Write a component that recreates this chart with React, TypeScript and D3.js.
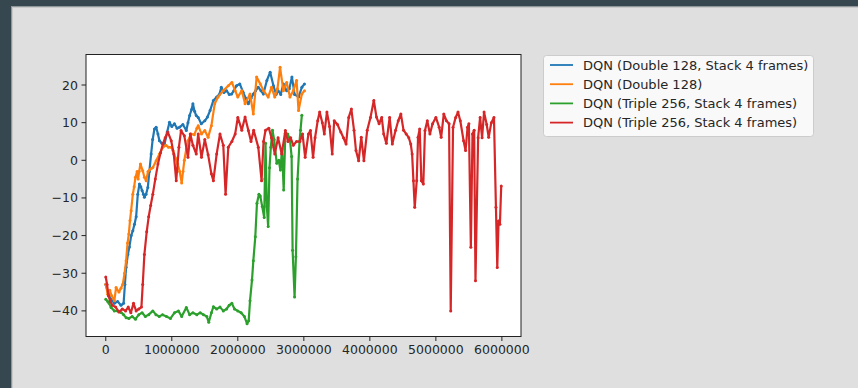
import React from "react";
import * as d3 from "d3";

// ---- data (steps in thousands, reward) ----
const blueData: [number, number][] = [
  [0,-33],[40,-35.5],[80,-37],[130,-38],[180,-37.5],[230,-38.5],[270,-38],[290,-33],[308,-28.4],[335,-25],[358,-23],[385,-20],[410,-18.7],[435,-17],[460,-15],[485,-9],[510,-6.3],[530,-7],[550,-8],[570,-9],[585,-9.8],[610,-9],[637,-7.2],[660,-3],[687,1.7],[710,5.5],[737,8.3],[763,8.8],[790,7],[813,5.2],[850,4.5],[890,4.3],[930,7.5],[965,10.1],[1000,9],[1040,9.7],[1080,8.5],[1117,8.8],[1168,9.5],[1220,7.9],[1245,10],[1270,11.9],[1300,13.5],[1320,15],[1345,13],[1370,11.9],[1400,11.4],[1446,9.7],[1500,10.5],[1540,11.5],[1580,13.2],[1630,15.9],[1680,16.8],[1720,17.5],[1750,19.4],[1790,18],[1830,18.5],[1870,17.5],[1906,17.6],[1940,18.5],[1980,19.8],[2030,20.3],[2080,18.1],[2120,16.5],[2160,15],[2200,16.5],[2235,17.6],[2270,18.5],[2310,19.4],[2350,18.5],[2387,17.6],[2440,21.2],[2490,23.4],[2540,19.8],[2580,17.5],[2610,18.5],[2650,17.5],[2690,20.3],[2740,18.5],[2780,19],[2820,22.1],[2860,17.5],[2920,16.8],[2970,19.4],[3010,20.3]
];
const orangeData: [number, number][] = [
  [0,-32.9],[30,-35.6],[60,-34.5],[90,-36],[130,-37.3],[156,-33.8],[200,-35],[230,-34],[258,-32.9],[285,-30],[308,-26.7],[330,-22],[349,-19.6],[367,-16],[384,-13.4],[410,-9],[430,-7],[450,-4.5],[475,-3],[490,-5],[505,-3],[525,-1],[560,-2.8],[585,-4.5],[612,-5.4],[640,-3],[665,-2.5],[690,-2.2],[713,-1.9],[763,-0.1],[813,1.7],[865,3.5],[910,4],[950,3.5],[990,3.5],[1017,2.6],[1060,0.5],[1090,-1],[1120,-3],[1150,-6],[1170,-3],[1190,0],[1220,3],[1245,5.2],[1294,7],[1340,6.8],[1380,8.5],[1400,9.2],[1450,7],[1500,7.9],[1550,6.1],[1600,9.2],[1650,15],[1700,16.8],[1780,18.5],[1856,19.8],[1910,20.7],[1960,18.5],[2000,16.8],[2060,18.5],[2110,15],[2185,17.6],[2235,12.3],[2285,22.1],[2340,20.3],[2390,18.5],[2460,16.8],[2510,19.4],[2560,16.8],[2600,19],[2640,24.7],[2690,18.5],[2740,20.7],[2790,16.8],[2840,18.5],[2890,21.2],[2920,13.2],[2970,17.6],[3010,18.5]
];
const greenData: [number, number][] = [
  [0,-36.9],[30,-37.5],[50,-38],[80,-39.1],[130,-40],[180,-40],[232,-40.4],[270,-41],[308,-41.8],[350,-42],[400,-41.5],[450,-42.2],[500,-41],[550,-40.5],[600,-41.5],[650,-41],[713,-40],[760,-41],[810,-41.5],[860,-41],[920,-41.5],[980,-42],[1040,-40.5],[1100,-40],[1150,-41.5],[1220,-39.1],[1270,-41],[1320,-40.5],[1380,-41],[1430,-40.5],[1480,-41],[1530,-41.5],[1560,-43],[1600,-40.5],[1630,-38.9],[1680,-39.5],[1730,-39],[1780,-40],[1830,-39.5],[1870,-38.5],[1910,-38],[1950,-39.5],[2000,-40],[2050,-40.5],[2100,-41.5],[2140,-43.4],[2165,-42.6],[2185,-37.3],[2215,-31.8],[2235,-26.7],[2265,-20.3],[2290,-11.4],[2320,-9],[2340,-9.5],[2370,-12.3],[2400,-15.2],[2410,-5],[2420,4.5],[2440,-12.3],[2460,-17.6],[2480,-2],[2500,3.5],[2525,8],[2550,5.5],[2590,-0.8],[2620,0],[2645,-2.6],[2670,3],[2695,-7.9],[2720,7.2],[2756,7],[2790,5.5],[2815,1],[2830,-23.9],[2860,-36.3],[2880,-25.6],[2905,-5],[2935,5],[2950,8],[2970,12]
];
const redData: [number, number][] = [
  [0,-31],[20,-33],[40,-36],[70,-37.5],[100,-38.5],[150,-39],[200,-40.3],[250,-39.5],[300,-40],[340,-39],[380,-40.5],[420,-38],[460,-40],[500,-39.5],[540,-39],[560,-33],[585,-25],[620,-19],[650,-15],[680,-12],[713,-9],[750,-5],[790,-1],[830,2],[865,4.3],[900,6],[940,7.5],[991,5.2],[1030,1.7],[1067,-5.4],[1108,3.5],[1140,7.9],[1190,6.5],[1245,0.8],[1280,7],[1320,4],[1370,1.7],[1400,7],[1450,0.8],[1500,5.5],[1550,1.5],[1600,-3.6],[1630,-5.4],[1680,1.7],[1730,7],[1780,4],[1815,-9],[1856,3.5],[1910,5],[1960,7],[2000,11.4],[2060,8],[2110,11.5],[2160,7.9],[2200,5],[2240,8],[2310,3.5],[2360,-5.4],[2390,5],[2420,8],[2470,8.5],[2510,6],[2560,1.7],[2610,6],[2665,1.7],[2720,7.9],[2760,5],[2800,6],[2840,4],[2890,5],[2940,5],[2980,7],[3020,0.8],[3070,7],[3100,7.9],[3140,0.8],[3170,6],[3210,10.5],[3240,12.8],[3280,10],[3310,7],[3350,12.8],[3390,9],[3430,1.7],[3460,10.5],[3510,9.5],[3560,7.5],[3600,6],[3640,4.3],[3680,11.4],[3720,13.6],[3760,8],[3790,2.6],[3830,-0.1],[3870,6.1],[3910,-0.1],[3960,8],[4010,11.4],[4060,15.9],[4100,11.5],[4140,9.7],[4180,11.4],[4210,7],[4250,4.5],[4300,11.4],[4340,4.3],[4390,8],[4430,10.5],[4470,12.3],[4510,8],[4550,7],[4590,6],[4620,4.3],[4640,1.7],[4660,-5.4],[4680,-12.5],[4710,-5.4],[4730,6.1],[4755,8.3],[4780,-5.4],[4810,-6.3],[4835,7.9],[4870,10.5],[4910,7],[4950,9.7],[5000,11.4],[5050,8.8],[5080,6.1],[5120,12.3],[5160,10.5],[5200,9.7],[5225,-40],[5260,8.8],[5300,11.4],[5335,12.8],[5370,10.5],[5420,5.2],[5450,2.6],[5480,8.8],[5500,9.7],[5530,-23.1],[5555,7],[5580,8],[5600,-32],[5640,6],[5670,11.4],[5700,6],[5730,12.8],[5770,9.5],[5800,6.1],[5840,10],[5880,11.4],[5910,-12.5],[5930,-28.5],[5950,-16.1],[5970,-17],[5990,-6.8]
];

const seriesNames = [
  "DQN (Double 128, Stack 4 frames)",
  "DQN (Double 128)",
  "DQN (Triple 256, Stack 4 frames)",
  "DQN (Triple 256, Stack 4 frames)",
];
const seriesColors = ["#1f77b4", "#ff7f0e", "#2ca02c", "#d62728"];
const xTicks = [0, 1000000, 2000000, 3000000, 4000000, 5000000, 6000000];
const yTicks = [-40, -30, -20, -10, 0, 10, 20];

export default function App() {
  const W = 858, H = 388;
  const L = 86, R = 521, T = 54.5, B = 336.5;
  const all = [blueData, orangeData, greenData, redData];
  const pts = all.flat();
  const xExt = d3.extent(pts, (d) => d[0] * 1000) as [number, number];
  const yExt = d3.extent(pts, (d) => d[1]) as [number, number];
  const xm = (xExt[1] - xExt[0]) * 0.05;
  const ym = (yExt[1] - yExt[0]) * 0.05;
  const x = d3.scaleLinear().domain([xExt[0] - xm, xExt[1] + xm]).range([L, R]);
  const y = d3.scaleLinear().domain([yExt[0] - ym, yExt[1] + ym]).range([B, T]);
  const line = d3
    .line<[number, number]>()
    .x((d) => x(d[0] * 1000))
    .y((d) => y(d[1]));
  const font = "'DejaVu Sans', sans-serif";
  const fs = 12.5;
  const txt = "#262626";
  const legX = 543.5, legY = 55.5, rowH = 19.2;

  return (
    <svg
      width={W}
      height={H}
      style={{ position: "absolute", left: 0, top: 0 }}
      xmlns="http://www.w3.org/2000/svg"
    >
      <rect x={0} y={0} width={W} height={H} fill="#37474f" />
      <rect x={11} y={6} width={W - 11} height={H - 6} fill="#8f9699" />
      <rect x={12} y={7} width={W - 12} height={H - 7} fill="#c9c9c9" />
      <rect x={13} y={8} width={W - 13} height={H - 8} fill="#dfdfdf" />

      <defs>
        <clipPath id="plotclip">
          <rect x={L} y={T} width={R - L} height={B - T} />
        </clipPath>
      </defs>
      <rect x={L} y={T} width={R - L} height={B - T} fill="#ffffff" />
      <g clipPath="url(#plotclip)">
        {all.map((data, i) => (
          <g key={i}>
            <path
              d={line(data) || ""}
              fill="none"
              stroke={seriesColors[i]}
              strokeWidth={2.2}
              strokeLinejoin="round"
            />
            {data.map((d, j) => (
              <circle
                key={j}
                cx={x(d[0] * 1000)}
                cy={y(d[1])}
                r={1.5}
                fill={seriesColors[i]}
              />
            ))}
          </g>
        ))}
      </g>
      <rect
        x={L}
        y={T}
        width={R - L}
        height={B - T}
        fill="none"
        stroke="#222"
        strokeWidth={1}
      />

      {yTicks.map((t) => (
        <g key={t}>
          <line x1={L - 4.5} x2={L} y1={y(t)} y2={y(t)} stroke="#222" />
          <text
            x={L - 8}
            y={y(t)}
            textAnchor="end"
            dominantBaseline="central"
            fontFamily={font}
            fontSize={fs}
            fill={txt}
          >
            {t < 0 ? "\u2212" + Math.abs(t) : String(t)}
          </text>
        </g>
      ))}
      {xTicks.map((t) => (
        <g key={t}>
          <line x1={x(t)} x2={x(t)} y1={B} y2={B + 4.5} stroke="#222" />
          <text
            x={x(t)}
            y={B + 8}
            textAnchor="middle"
            dominantBaseline="hanging"
            fontFamily={font}
            fontSize={fs}
            fill={txt}
          >
            {String(t)}
          </text>
        </g>
      ))}

      <rect
        x={legX}
        y={legY}
        width={270}
        height={81}
        rx={3}
        fill="#ffffff"
        fillOpacity={0.8}
        stroke="#cccccc"
      />
      {seriesNames.map((n, i) => {
        const cy = 65 + i * rowH;
        return (
          <g key={i}>
            <line
              x1={550}
              x2={573}
              y1={cy}
              y2={cy}
              stroke={seriesColors[i]}
              strokeWidth={1.8}
            />
            <text
              x={583}
              y={cy}
              dominantBaseline="central"
              fontFamily={font}
              fontSize={13}
              fill={txt}
            >
              {n}
            </text>
          </g>
        );
      })}
    </svg>
  );
}
